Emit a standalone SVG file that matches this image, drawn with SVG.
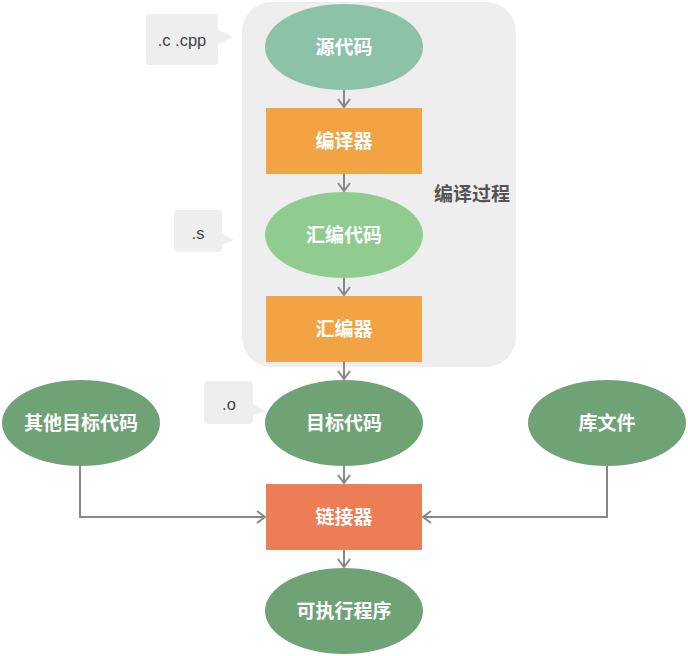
<svg xmlns="http://www.w3.org/2000/svg" width="688" height="656" viewBox="0 0 688 656">
<defs>
<marker id="arr" markerWidth="12" markerHeight="14" refX="9" refY="7" orient="auto" markerUnits="userSpaceOnUse">
<path d="M1,1 L9,7 L1,13" fill="none" stroke="#888888" stroke-width="2"/>
</marker>
</defs>
<style>
.lbl{font-family:"Noto Sans CJK SC","Liberation Sans",sans-serif;font-size:19px;font-weight:bold;fill:#ffffff;text-anchor:middle;dominant-baseline:central}
.note{font-family:"Liberation Sans","Noto Sans",sans-serif;font-size:16.5px;fill:#444444;text-anchor:middle;dominant-baseline:central}
.call{fill:#EEEEEE}
.edge{fill:none;stroke:#888888;stroke-width:2;marker-end:url(#arr)}
</style>
<rect id="container" x="242" y="2" width="274" height="365" rx="30" fill="#EEEEEE"/>
<text x="472" y="192" style="font-family:'Noto Sans CJK SC',sans-serif;font-size:19px;font-weight:bold;fill:#555555;text-anchor:middle;dominant-baseline:central">编译过程</text>
<g id="callout-c">
<path class="call" d="M150,14 H214 Q218,14 218,18 V30 L233,37 L218,44 V61 Q218,65 214,65 H150 Q146,65 146,61 V18 Q146,14 150,14 Z"/>
<text class="note" x="182" y="40">.c .cpp</text>
</g>
<g id="callout-s">
<path class="call" d="M178,210 H218 Q222,210 222,214 V233 L234,240 L222,245 V248 Q222,252 218,252 H178 Q174,252 174,248 V214 Q174,210 178,210 Z"/>
<text class="note" x="198" y="233">.s</text>
</g>
<g id="callout-o">
<path class="call" d="M208,381 H249 Q253,381 253,385 V404 L265,411 L253,416 V420 Q253,424 249,424 H208 Q204,424 204,420 V385 Q204,381 208,381 Z"/>
<text class="note" x="229" y="404">.o</text>
</g>
<g id="connectors">
<line class="edge" x1="344" y1="90" x2="344" y2="107"/>
<line class="edge" x1="344" y1="174" x2="344" y2="191"/>
<line class="edge" x1="344" y1="278" x2="344" y2="295"/>
<line class="edge" x1="344" y1="362" x2="344" y2="379"/>
<line class="edge" x1="344" y1="466" x2="344" y2="483"/>
<line class="edge" x1="344" y1="550" x2="344" y2="567"/>
<polyline class="edge" points="80,466 80,517 265,517"/>
<polyline class="edge" points="607,466 607,517 423,517"/>
</g>
<g id="n-src"><ellipse cx="344" cy="47" rx="79" ry="43" fill="#8CC2A8"/><text class="lbl" x="344" y="45.5">源代码</text></g>
<g id="n-compiler"><rect x="266" y="108" width="156" height="66" fill="#F2A444"/><text class="lbl" x="344" y="139.5">编译器</text></g>
<g id="n-asm"><ellipse cx="344" cy="235" rx="79" ry="43" fill="#90CB90"/><text class="lbl" x="344" y="233.5">汇编代码</text></g>
<g id="n-assembler"><rect x="266" y="296" width="156" height="66" fill="#F2A444"/><text class="lbl" x="344" y="327.5">汇编器</text></g>
<g id="n-obj"><ellipse cx="344" cy="423" rx="79" ry="43" fill="#6FA376"/><text class="lbl" x="344" y="421.5">目标代码</text></g>
<g id="n-otherobj"><ellipse cx="81" cy="423" rx="79" ry="43" fill="#6FA376"/><text class="lbl" x="81" y="421.5">其他目标代码</text></g>
<g id="n-lib"><ellipse cx="607" cy="423" rx="79" ry="43" fill="#6FA376"/><text class="lbl" x="607" y="421.5">库文件</text></g>
<g id="n-linker"><rect x="266" y="484" width="156" height="66" fill="#EC7D55"/><text class="lbl" x="344" y="515.5">链接器</text></g>
<g id="n-exe"><ellipse cx="344" cy="611" rx="79" ry="43" fill="#6FA376"/><text class="lbl" x="344" y="609.5">可执行程序</text></g>
</svg>
